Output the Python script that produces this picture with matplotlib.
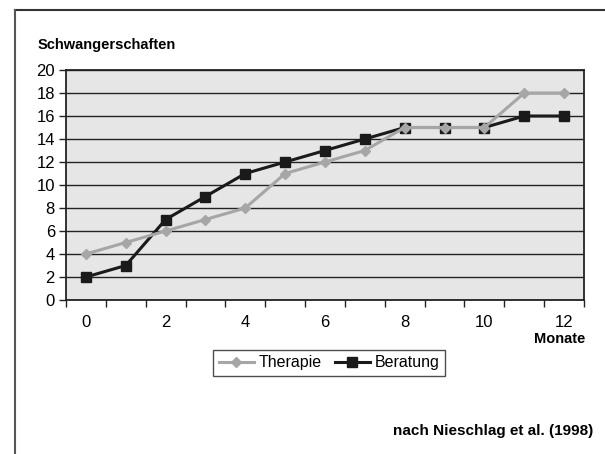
import matplotlib.pyplot as plt
from matplotlib.lines import Line2D
import numpy as np

plt.rcParams['font.family'] = ['Liberation Sans', 'DejaVu Sans']

monate = list(range(13))
therapie = [4, 5, 6, 7, 8, 11, 12, 13, 15, 15, 15, 18, 18]
beratung = [2, 3, 7, 9, 11, 12, 13, 14, 15, 15, 15, 16, 16]
x_labels = ['0', '', '2', '', '4', '', '6', '', '8', '', '10', '', '12']

fig = plt.figure(figsize=(6.05, 4.54), dpi=100)
ax = fig.add_axes([66/605, 1-300/454, (584-66)/605, (300-70)/454])
ax.set_facecolor('#e6e6e6')

ax.plot(monate, therapie, color='#a6a6a6', lw=2.2, marker='D', ms=5,
        label='Therapie', zorder=3)
ax.plot(monate, beratung, color='#1a1a1a', lw=2.2, marker='s', ms=7,
        label='Beratung', zorder=2)

ax.set_xlim(-0.5, 12.5)
ax.set_ylim(0, 20)
ax.set_yticks(np.arange(0, 21, 2))
ax.set_xticks(monate)
ax.set_xticklabels(x_labels)
ax.set_xticks(np.arange(-0.5, 13, 1), minor=True)
ax.tick_params(axis='x', which='major', length=0, pad=11, labelsize=12)
ax.tick_params(axis='x', which='minor', length=5, width=1, color='#222222')
ax.tick_params(axis='y', length=5, width=1, color='#222222', labelsize=12, pad=3)
ax.yaxis.grid(True, color='#222222', lw=1)
ax.set_axisbelow(True)
for s in ax.spines.values():
    s.set_color('#222222')
    s.set_linewidth(1.3)

fig.text(38/605, 1-45/454, 'Schwangerschaften', fontsize=10.5, fontweight='bold',
         va='center', ha='left')
fig.text(585/605, 1-339/454, 'Monate', fontsize=10.5, fontweight='bold',
         va='center', ha='right')
fig.text(593/605, 1-431/454, 'nach Nieschlag et al. (1998)', fontsize=11,
         fontweight='bold', va='center', ha='right')

leg = fig.legend(loc='center', bbox_to_anchor=(329/605, 1-363/454), ncol=2,
                 fontsize=11.5, frameon=True, fancybox=False, handlelength=2.2,
                 columnspacing=0.8, handletextpad=0.3, borderpad=0.35)
leg.get_frame().set_edgecolor('#222222')
leg.get_frame().set_linewidth(1)

fig.add_artist(Line2D([15/605, 1], [1-10/454, 1-10/454], color='#333333', lw=1.5))
fig.add_artist(Line2D([15/605, 15/605], [0, 1-10/454], color='#555555', lw=1.5))

fig.savefig('out.png', dpi=100)
